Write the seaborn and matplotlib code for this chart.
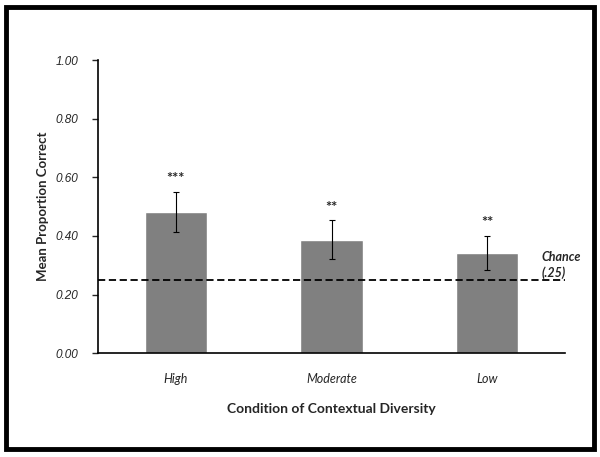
import matplotlib
matplotlib.use("Agg")
import matplotlib.pyplot as plt
import matplotlib.patches as mpatches
import pandas as pd
import seaborn as sns

conditions = ["High", "Moderate", "Low"]
mean_correct = [0.481, 0.387, 0.343]
sem = [0.069, 0.066, 0.058]
stars = ["***", "**", "**"]
chance = 0.25
y_ticks = [0.0, 0.2, 0.4, 0.6, 0.8, 1.0]

sns.set_style("white")
plt.rcParams["font.family"] = ["Lato", "DejaVu Sans"]

df = pd.DataFrame({"condition": conditions, "mean": mean_correct})

fig = plt.figure(figsize=(6, 4.57), dpi=100)
ax = fig.add_axes([0.1633, 0.2269, 0.7784, 0.6418])

sns.barplot(data=df, x="condition", y="mean", order=conditions,
            color="#808080", saturation=1, width=0.4, ax=ax)
ax.errorbar(range(len(conditions)), mean_correct, yerr=sem, fmt="none",
            ecolor="black", elinewidth=0.8, capsize=2.5, capthick=0.8)

for i, (m, e, s) in enumerate(zip(mean_correct, sem, stars)):
    ax.text(i, m + e + 0.02, s, ha="center", va="bottom",
            fontsize=10.5, fontweight="bold")

ax.axhline(chance, color="black", linestyle=(0, (4, 2)), linewidth=1.3)
ax.text(2.35, chance + 0.1, "Chance\n(.25)", ha="left", va="top",
        fontsize=9, fontweight="bold", style="italic", linespacing=1.4,
        clip_on=False)

ax.set_xlim(-0.5, 2.5)
ax.set_ylim(0, 1.0)
ax.set_yticks(y_ticks)
ax.set_yticklabels([f"{v:.2f}" for v in y_ticks], fontsize=8.5,
                   style="italic", family="Liberation Sans")
ax.set_xticks(range(len(conditions)))
ax.set_xticklabels(conditions, fontsize=9, style="italic")
ax.set_xticks([-0.5, 0.5, 1.5, 2.5], minor=True)
ax.tick_params(axis="x", which="major", length=0, pad=14)
ax.tick_params(axis="x", which="minor", length=4, direction="out", width=1)
ax.tick_params(axis="y", length=4, direction="out", width=1, left=True, pad=10)

for side in ["top", "right"]:
    ax.spines[side].set_visible(False)
for side in ["left", "bottom"]:
    ax.spines[side].set_color("black")
    ax.spines[side].set_linewidth(1.2)

ax.set_xlabel("Condition of Contextual Diversity", fontsize=10,
              fontweight="bold", labelpad=13)
ax.set_ylabel("Mean Proportion Correct", fontsize=9.5, fontweight="bold",
              labelpad=5)

border = mpatches.Rectangle((0.0095, 0.017), 0.981, 0.968, transform=fig.transFigure,
                            fill=False, edgecolor="black", linewidth=3.5)
fig.patches.append(border)

fig.savefig("out.png", dpi=100)
